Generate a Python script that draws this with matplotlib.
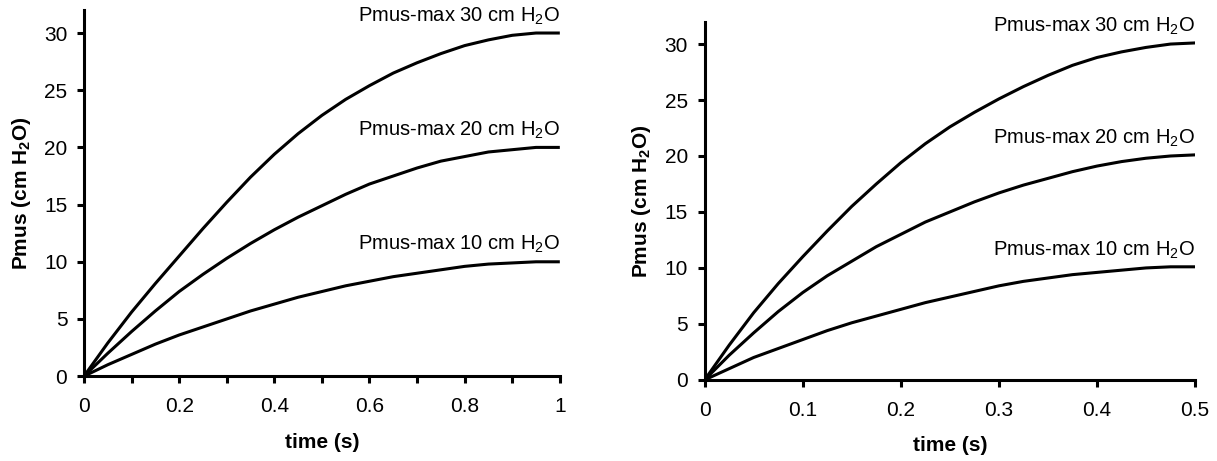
import matplotlib
matplotlib.use("Agg")
import matplotlib.pyplot as plt
from matplotlib.ticker import MultipleLocator

plt.rcParams['font.family'] = ['Liberation Sans', 'DejaVu Sans']
plt.rcParams['mathtext.fontset'] = 'custom'
plt.rcParams['mathtext.rm'] = 'Liberation Sans'
plt.rcParams['mathtext.bf'] = 'Liberation Sans:bold'

# left panel: inspiratory time 1 s
t_left = [0, 0.05, 0.1, 0.15, 0.2, 0.25, 0.3, 0.35, 0.4, 0.45, 0.5,
          0.55, 0.6, 0.65, 0.7, 0.75, 0.8, 0.85, 0.9, 0.95, 1.0]
left_30 = [0, 2.9, 5.6, 8.1, 10.5, 12.9, 15.2, 17.4, 19.4, 21.2, 22.8,
           24.2, 25.4, 26.5, 27.4, 28.2, 28.9, 29.4, 29.8, 30.0, 30.0]
left_20 = [0, 2.0, 3.9, 5.7, 7.4, 8.9, 10.3, 11.6, 12.8, 13.9, 14.9,
           15.9, 16.8, 17.5, 18.2, 18.8, 19.2, 19.6, 19.8, 20.0, 20.0]
left_10 = [0, 1.0, 1.9, 2.8, 3.6, 4.3, 5.0, 5.7, 6.3, 6.9, 7.4,
           7.9, 8.3, 8.7, 9.0, 9.3, 9.6, 9.8, 9.9, 10.0, 10.0]

# right panel: inspiratory time 0.5 s
t_right = [0, 0.025, 0.05, 0.075, 0.1, 0.125, 0.15, 0.175, 0.2, 0.225, 0.25,
           0.275, 0.3, 0.325, 0.35, 0.375, 0.4, 0.425, 0.45, 0.475, 0.5]
right_30 = [0, 3.1, 6.0, 8.6, 11.0, 13.3, 15.5, 17.5, 19.4, 21.1, 22.6,
            23.9, 25.1, 26.2, 27.2, 28.1, 28.8, 29.3, 29.7, 30.0, 30.1]
right_20 = [0, 2.2, 4.2, 6.1, 7.8, 9.3, 10.6, 11.9, 13.0, 14.1, 15.0,
            15.9, 16.7, 17.4, 18.0, 18.6, 19.1, 19.5, 19.8, 20.0, 20.1]
right_10 = [0, 1.0, 2.0, 2.8, 3.6, 4.4, 5.1, 5.7, 6.3, 6.9, 7.4,
            7.9, 8.4, 8.8, 9.1, 9.4, 9.6, 9.8, 10.0, 10.1, 10.1]

pmax = [30, 20, 10]
labels = ['Pmus-max %d cm H$_2$O' % p for p in pmax]

fig = plt.figure(figsize=(12.17, 4.61), dpi=100)
ax1 = fig.add_axes([0.069, 0.184, 0.391, 0.794])
ax2 = fig.add_axes([0.579, 0.176, 0.403, 0.777])

panels = [
    (ax1, t_left, [left_30, left_20, left_10], 1.0, 0.2, 0.1, 1.5),
    (ax2, t_right, [right_30, right_20, right_10], 0.5, 0.1, 0.1, 1.6),
]

for ax, t, curves, tmax, major, minor, off in panels:
    for y, lab, p in zip(curves, labels, pmax):
        ax.plot(t, y, color='black', lw=2.2, solid_capstyle='butt')
        ax.text(tmax, p + off, lab, ha='right', va='center', fontsize=14.5)
    ax.set_xlim(0, tmax)
    ax.set_ylim(0, 32)
    ax.spines['top'].set_visible(False)
    ax.spines['right'].set_visible(False)
    ax.spines['left'].set_linewidth(2.2)
    ax.spines['bottom'].set_linewidth(2.2)
    ax.xaxis.set_minor_locator(MultipleLocator(minor))
    ax.yaxis.set_major_locator(MultipleLocator(5))
    ax.tick_params(which='both', direction='out', length=5, width=2.2,
                   labelsize=15)
    ax.tick_params(axis='x', pad=10)
    ax.tick_params(axis='y', pad=7)
    n = int(round(tmax / major)) + 1
    ax.set_xticks([i * major for i in range(n)])
    ax.set_xticklabels(['%g' % round(i * major, 2) for i in range(n)])
    ax.set_xlabel('time (s)', fontsize=15, fontweight='bold', labelpad=12)
    ax.set_ylabel(r'Pmus (cm H$_\mathbf{2}$O)', fontsize=15, fontweight='bold', labelpad=8)

fig.savefig('out.png', dpi=100)
